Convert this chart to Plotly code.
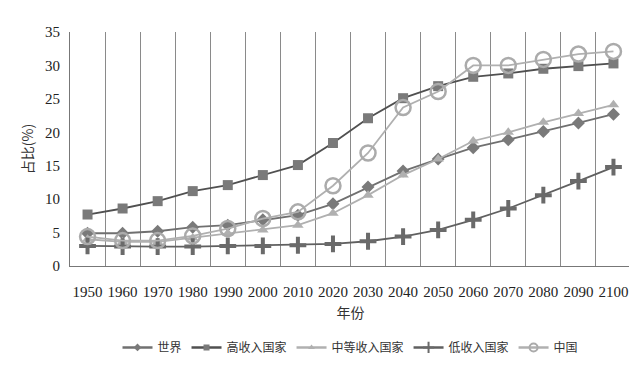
import plotly.graph_objects as go

years = [1950, 1960, 1970, 1980, 1990, 2000, 2010, 2020, 2030, 2040, 2050, 2060, 2070, 2080, 2090, 2100]
world = [4.9, 4.9, 5.2, 5.8, 6.1, 6.9, 7.6, 9.3, 11.8, 14.2, 16.0, 17.7, 18.9, 20.1, 21.4, 22.7]
high_income = [7.7, 8.6, 9.7, 11.2, 12.1, 13.6, 15.1, 18.4, 22.1, 25.1, 26.9, 28.3, 28.8, 29.5, 29.9, 30.3]
middle_income = [4.0, 3.6, 3.6, 4.2, 4.9, 5.4, 6.1, 7.9, 10.6, 13.6, 16.0, 18.7, 20.0, 21.5, 22.8, 24.1]
low_income = [3.0, 2.9, 2.9, 2.9, 3.0, 3.0, 3.1, 3.3, 3.7, 4.4, 5.4, 6.9, 8.6, 10.6, 12.7, 14.8]
china = [4.4, 3.8, 3.8, 4.5, 5.6, 7.1, 8.1, 12.0, 16.9, 23.7, 26.1, 30.0, 30.0, 30.9, 31.7, 32.1]

series = [
    ("世界", world, "#707070", "#7a7a7a", "diamond", 10, None, 6),
    ("高收入国家", high_income, "#505050", "#7a7a7a", "square", 10, None, 6),
    ("中等收入国家", middle_income, "#b0b0b0", "#b0b0b0", "triangle-up", 10, None, 6),
    ("低收入国家", low_income, "#606060", "#6a6a6a", "cross-thin", 12, 4, 8),
    ("中国", china, "#b0b0b0", "#ababab", "circle-open", 15, 2.5, 8),
]

fig = go.Figure()
for name, vals, lc, mc, sym, size, mlw, lsize in series:
    marker = dict(symbol=sym, size=size, color=mc)
    if mlw is not None:
        marker["line"] = dict(width=mlw, color=mc)
    fig.add_trace(go.Scatter(
        x=years, y=vals, name=name, mode="lines+markers", showlegend=False,
        line=dict(color=lc, width=1.8), marker=marker,
    ))
for name, vals, lc, mc, sym, size, mlw, lsize in series:
    marker = dict(symbol=sym, size=lsize, color=mc)
    if mlw is not None:
        marker["line"] = dict(width=min(mlw, 2), color=mc)
    fig.add_trace(go.Scatter(
        x=[None], y=[None], name=name, mode="lines+markers", showlegend=True,
        line=dict(color=lc, width=2.5), marker=marker,
    ))

fig.update_layout(
    width=637, height=366,
    margin=dict(l=62, r=14, t=24, b=100),
    paper_bgcolor="white", plot_bgcolor="white",
    font=dict(family="Liberation Serif, Noto Sans CJK SC", color="#222", size=15),
    showlegend=True,
    legend=dict(orientation="h", x=0.5, xanchor="center", y=-0.348, yanchor="middle",
                font=dict(family="Noto Sans CJK SC", size=12, color="#333"),
                itemwidth=30, traceorder="normal"),
)
fig.update_xaxes(
    range=[1945, 2105], tickmode="array", tickvals=years, ticktext=[str(y) for y in years],
    showgrid=False, zeroline=False, showline=True, linecolor="#777", linewidth=1,
    ticks="", ticklabelstandoff=12, automargin=False,
    minor=dict(tick0=1945, dtick=10, showgrid=True, gridcolor="#8a8a8a", gridwidth=1, ticks=""),
    title=dict(text="年份", font=dict(family="Noto Sans CJK SC", size=14, color="#333"), standoff=9),
)
fig.update_yaxes(
    range=[0, 35], dtick=5, showgrid=False, zeroline=False, showline=True,
    linecolor="#777", linewidth=1, ticks="", ticklabelstandoff=6, automargin=False,
    title=dict(text="占比(%)", font=dict(family="Noto Sans CJK SC", size=14, color="#333"), standoff=8),
)

fig.write_html("out.html")
